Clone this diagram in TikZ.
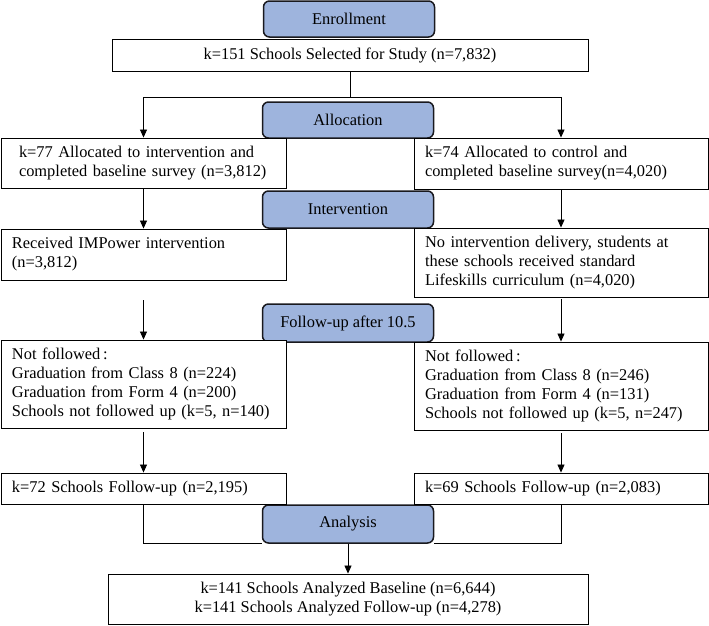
\documentclass[tikz,border=0pt]{standalone}
\usepackage{fontspec}
\setmainfont{Liberation Serif}
\usetikzlibrary{arrows.meta}
\definecolor{stageblue}{RGB}{158,180,221}
\definecolor{stageedge}{RGB}{25,25,30}
\begin{document}
\begin{tikzpicture}[x=1pt,y=-1pt,
  font=\fontsize{16.4}{19}\selectfont,
  stage/.style={draw=stageedge,line width=1.5pt,fill=stageblue,rounded corners=6pt,
    minimum width=171pt,inner sep=0pt},
  plainbox/.style={draw=black,line width=0.9pt,fill=white,inner sep=0pt},
  sidebox/.style={draw=black,line width=0.9pt,fill=white,inner xsep=11pt,inner ysep=0pt,
    align=left,text width=263pt},
  rsidebox/.style={sidebox,text width=272pt},
  arr/.style={-{Triangle[length=8pt,width=7pt]},line width=0.8pt},
  conn/.style={line width=0.8pt}
]
\useasboundingbox (0,0) rectangle (709,625);

% stage boxes
\node[stage,minimum height=36pt] (enr) at (349,19) {Enrollment};
\node[stage,minimum height=36pt] (alloc) at (348,120) {Allocation};
\node[stage,minimum height=37pt] (interv) at (348,209.5) {Intervention};
\node[stage,minimum height=38pt] (follow) at (348,323) {Follow-up after 10.5};
\node[stage,minimum height=38pt] (anal) at (348,524) {Analysis};

% content boxes
\node[plainbox,minimum width=476pt,minimum height=32pt] (sel) at (350,55)
  {k=151 Schools Selected for Study (n=7,832)};

\node[sidebox,minimum height=50pt,inner xsep=18pt,text width=249pt] (L1) at (143.5,163)
  {k=77 Allocated to intervention and\\completed baseline survey (n=3,812)};
\node[rsidebox,minimum height=51pt] (R1) at (561,163.5)
  {k=74 Allocated to control and\\completed baseline survey(n=4,020)};

\node[sidebox,minimum height=51pt] (L2) at (143.5,254.5)
  {Received IMPower intervention\\(n=3,812)};
\node[rsidebox,minimum height=69pt] (R2) at (561,262.5)
  {No intervention delivery, students at\\these schools received standard\\Lifeskills curriculum (n=4,020)};

\node[sidebox,minimum height=88pt] (L3) at (143.5,384)
  {Not followed\thinspace:\\Graduation from Class 8 (n=224)\\Graduation from Form 4 (n=200)\\Schools not followed up (k=5, n=140)};
\node[rsidebox,minimum height=88pt] (R3) at (561,386)
  {Not followed\thinspace:\\Graduation from Class 8 (n=246)\\Graduation from Form 4 (n=131)\\Schools not followed up (k=5, n=247)};

\node[sidebox,minimum height=31pt] (L4) at (143.5,488.5)
  {k=72 Schools Follow-up (n=2,195)};
\node[rsidebox,minimum height=31pt] (R4) at (561,488.5)
  {k=69 Schools Follow-up (n=2,083)};

\node[plainbox,minimum width=480pt,minimum height=50pt,align=center] (bot) at (348,599)
  {k=141 Schools Analyzed Baseline (n=6,644)\\k=141 Schools Analyzed Follow-up (n=4,278)};

% connectors
\coordinate (bM) at (350,97);
\coordinate (bL) at (143.5,97);
\coordinate (bR) at (561,97);
\coordinate (l2x) at (143.5,300);

\draw[conn] (sel.south) -- (bM);
\draw[conn] (bL) -- (bR);
\draw[arr] (bL) -- (L1.north);
\draw[arr] (bR) -- (R1.north);
\draw[arr] (L1.south) -- (L2.north);
\draw[arr] (R1.south) -- (R2.north);
\draw[arr] (l2x) -- (L3.north);
\draw[arr,shorten <=2pt] (R2.south) -- (R3.north);
\draw[arr,shorten <=4pt] (L3.south) -- (L4.north);
\draw[arr,shorten <=3pt] (R3.south) -- (R4.north);
\draw[conn] (L4.south) -- (L4.south |- anal.south) -- (anal.south west);
\draw[conn] (R4.south) -- (R4.south |- anal.south) -- (anal.south east);
\draw[arr] (anal.south) -- (bot.north);
\end{tikzpicture}
\end{document}
